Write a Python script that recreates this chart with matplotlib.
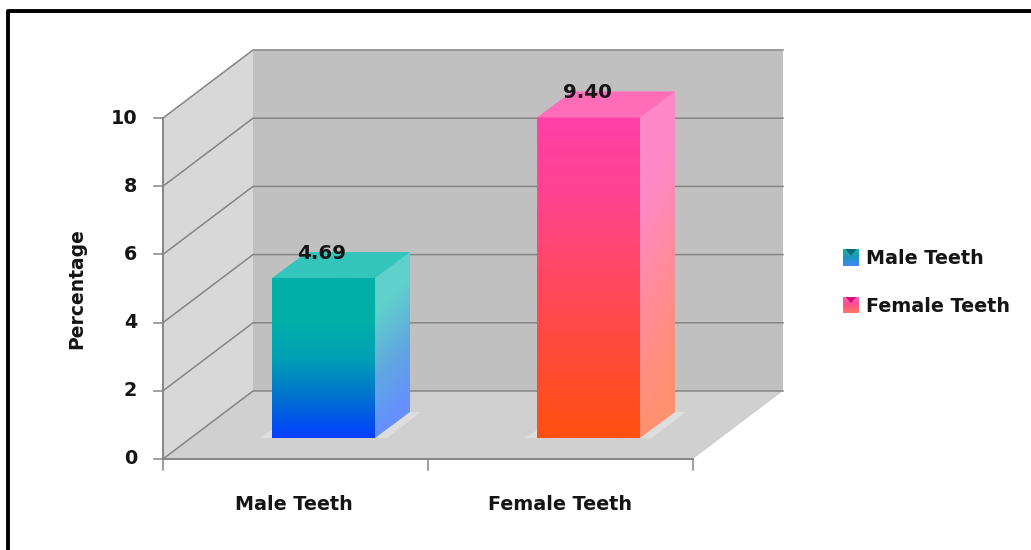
import numpy as np
import matplotlib
matplotlib.use("Agg")
import matplotlib.pyplot as plt
from matplotlib.colors import LinearSegmentedColormap
from matplotlib.lines import Line2D
from matplotlib.patches import Polygon

categories = ["Male Teeth", "Female Teeth"]
values = [4.69, 9.40]
labels = ["4.69", "9.40"]
y_ticks = [0, 2, 4, 6, 8, 10]

# gradient stops, bottom to top
front_colors = [["#0040ff", "#0070d0", "#00a0b4", "#00b0a8", "#00b0a8"],
                ["#ff5010", "#ff4c38", "#ff4860", "#ff4490", "#ff40a8"]]
side_colors = [["#6690ff", "#60a8e0", "#60d0cc", "#60d0cc"],
               ["#ff9070", "#ff8c98", "#ff88c8", "#ff88c8"]]
top_colors = ["#33c4bc", "#ff6cb8"]
legend_colors = [["#4088f8", "#1898c0", "#20b0a8"], ["#ff7860", "#ff5090", "#ff60b0"]]
legend_dark = ["#0a6a7a", "#d01080"]

W, H = 1031, 550
plt.rcParams["font.family"] = ["DejaVu Sans"]
fig = plt.figure(figsize=(W / 100, H / 100), dpi=100, facecolor="white")

# only the top and left edges of the frame are visible
fig.add_artist(Line2D([7.5 / W, 7.5 / W, 1], [0, 1 - 11 / H, 1 - 11 / H],
                      transform=fig.transFigure, color="black", lw=2.8))

# axes = front plane of the 3D box: y 0..10, one unit of x per category
left, right, bottom, top = 163, 693, 459, 118
ax = fig.add_axes([left / W, 1 - bottom / H, (right - left) / W, (bottom - top) / H])
ax.axis("off")

px_x = 2 / (right - left)
px_y = 10 / (bottom - top)
dx, dy = 90 * px_x, 68 * px_y  # depth of the box
bar_off_x, bar_off_y = 109 * px_x, 21 * px_y
bar_dx, bar_dy = 35 * px_x, 26 * px_y
bar_w = 103 * px_x
grid_col = "#858585"
text_col = "#151515"


def poly(pts, fc, z=1):
    p = Polygon(pts, closed=True, fc=fc, ec="none", lw=0, zorder=z, clip_on=False)
    ax.add_patch(p)
    return p


def gradient(clip, colors, extent, z, slant=0.0):
    # slant tilts the colour bands so they fall away to the right
    cmap = LinearSegmentedColormap.from_list("g", colors)
    u, v = np.meshgrid(np.linspace(0, 1, 64), np.linspace(0, 1, 256))
    im = ax.imshow(np.clip(v - slant * u, 0, 1), origin="lower", cmap=cmap, extent=extent,
                   aspect="auto", zorder=z, vmin=0, vmax=1)
    # faces reach past the axes box, so clip to the face only
    im.set_clip_box(fig.bbox)
    im.set_clip_path(clip)


# walls and floor
poly([(dx, dy), (2 + dx, dy), (2 + dx, 10 + dy), (dx, 10 + dy)], "#c0c0c0")
poly([(0, 0), (dx, dy), (dx, 10 + dy), (0, 10)], "#d8d8d8")
poly([(0, 0), (2, 0), (2 + dx, dy), (dx, dy)], "#d0d0d0")

# gridlines run along the side wall and across the back wall
for t in y_ticks:
    ax.plot([0, dx, 2 + dx], [t, t + dy, t + dy], color=grid_col, lw=1.1, zorder=2, clip_on=False)
    ax.plot([-9 * px_x, 0], [t, t], color=grid_col, lw=1.1, zorder=2, clip_on=False)
    ax.text(-26 * px_x, t, str(t), ha="right", va="center", fontsize=13.8, fontweight="bold",
            color=text_col, clip_on=False)
ax.plot([0, 0], [0, 10], color=grid_col, lw=1.4, zorder=3, clip_on=False)
ax.plot([0, 2], [0, 0], color=grid_col, lw=1.4, zorder=3, clip_on=False)
for i in range(len(categories) + 1):
    ax.plot([i, i], [0, -11 * px_y], color=grid_col, lw=1.1, zorder=3, clip_on=False)

ax.text(-86 * px_x, 5, "Percentage", rotation=90, ha="center", va="center",
        fontsize=13.5, fontweight="bold", color=text_col, clip_on=False)

# bars
for i, v in enumerate(values):
    x0 = i + bar_off_x
    x1 = x0 + bar_w
    y0 = bar_off_y
    y1 = y0 + v

    # pale shadow on the floor
    poly([(x1, y0), (x1 + bar_dx, y0 + bar_dy), (x1 + bar_dx + 11 * px_x, y0 + bar_dy),
          (x1 + 12 * px_x, y0)], "#dedede", z=3)
    poly([(x0 - 12 * px_x, y0), (x0, y0), (x0, y0 + 8 * px_y)], "#dedede", z=3)

    front = poly([(x0, y0), (x1, y0), (x1, y1), (x0, y1)], "none", z=4)
    gradient(front, front_colors[i], (x0, x1, y0, y1), 4)
    side = poly([(x1, y0), (x1 + bar_dx, y0 + bar_dy), (x1 + bar_dx, y1 + bar_dy), (x1, y1)], "none", z=4)
    gradient(side, side_colors[i], (x1, x1 + bar_dx, y0, y1 + bar_dy), 4, slant=0.2)
    poly([(x0, y1), (x1, y1), (x1 + bar_dx, y1 + bar_dy), (x0 + bar_dx, y1 + bar_dy)], top_colors[i], z=5)

    ax.text(x0 + 50 * px_x, y1 + 25 * px_y, labels[i], ha="center", va="center", fontsize=14.3,
            fontweight="bold", color=text_col, zorder=6, clip_on=False)
    ax.text(i + 0.5 - (2 if i == 0 else 0) * px_x, -45 * px_y, categories[i], ha="center", va="center",
            fontsize=13.8, fontweight="bold", color=text_col, clip_on=False)

ax.set_xlim(0, 2)
ax.set_ylim(0, 10)

# legend with small gradient swatches
swatch_y = [257.5, 305]
text_y = [258, 307]
for i, name in enumerate(categories):
    lax = fig.add_axes([843 / W, 1 - (swatch_y[i] + 8.5) / H, 16 / W, 17 / H])
    lax.imshow(np.linspace(0, 1, 64).reshape(-1, 1), origin="lower", aspect="auto",
               extent=(0, 1, 0, 1),
               cmap=LinearSegmentedColormap.from_list("l", legend_colors[i]))
    lax.add_patch(Polygon([(0.15, 1), (0.85, 1), (0.5, 0.6)], closed=True, fc=legend_dark[i], ec="none"))
    lax.set_xlim(0, 1)
    lax.set_ylim(0, 1)
    lax.axis("off")
    fig.text(866 / W, 1 - text_y[i] / H, name, ha="left", va="center", fontsize=13.8,
             fontweight="bold", color=text_col)

fig.savefig("out.png", dpi=100)
